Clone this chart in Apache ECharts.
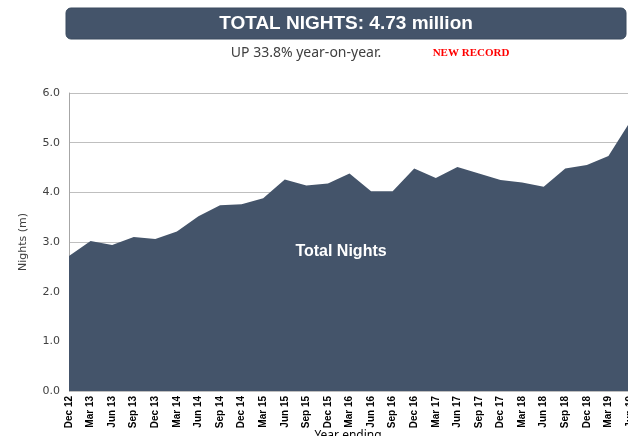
<!DOCTYPE html>
<html>
<head>
<meta charset="utf-8">
<script src="https://cdn.jsdelivr.net/npm/echarts@6/dist/echarts.min.js"></script>
<style>html,body{margin:0;padding:0;background:#fff;}#c{width:628px;height:436px;}</style>
</head>
<body>
<div id="c"></div>
<script>
var categories = ['Dec 12','Mar 13','Jun 13','Sep 13','Dec 13','Mar 14','Jun 14','Sep 14','Dec 14','Mar 15','Jun 15','Sep 15','Dec 15','Mar 16','Jun 16','Sep 16','Dec 16','Mar 17','Jun 17','Sep 17','Dec 17','Mar 18','Jun 18','Sep 18','Dec 18','Mar 19','Jun 19'];
var totalNights = [2.72,3.02,2.94,3.10,3.06,3.21,3.52,3.74,3.76,3.88,4.26,4.14,4.18,4.38,4.02,4.02,4.48,4.29,4.51,4.38,4.25,4.20,4.11,4.48,4.55,4.73,5.42];
var yTicks = [0,1,2,3,4,5,6];

var chart = echarts.init(document.getElementById('c'), null, {renderer:'canvas'});
chart.setOption({
  animation:false,
  backgroundColor:'#fff',
  grid:{left:69,right:-2,top:93,bottom:45,containLabel:false,outerBoundsMode:'none'},
  graphic:[
    {type:'rect',shape:{x:66,y:8,width:560,height:31,r:5},style:{fill:'#44546a',stroke:'#3a4a5e',lineWidth:1}},
    {type:'text',x:346,y:24,style:{text:'TOTAL NIGHTS: 4.73 million',fill:'#fff',font:'bold 19px "Liberation Sans", Arial, sans-serif',align:'center',verticalAlign:'middle'}},
    {type:'text',x:306,y:53,style:{text:'UP 33.8% year-on-year.',fill:'#404040',font:'14px "Noto Sans", sans-serif',align:'center',verticalAlign:'middle'}},
    {type:'text',x:471,y:53,style:{text:'NEW RECORD',fill:'#ff0000',font:'bold 11px "Liberation Serif", "Times New Roman", serif',align:'center',verticalAlign:'middle'}},
    {type:'text',x:341,y:252,z:100,style:{text:'Total Nights',fill:'#fff',font:'bold 16px "Liberation Sans", Arial, sans-serif',align:'center',verticalAlign:'middle'}},
    {type:'text',x:348,y:430,z:100,style:{text:'Year ending',fill:'#000',font:'12px "Noto Sans", sans-serif',align:'center',verticalAlign:'top'}}
  ],
  xAxis:{
    type:'category',data:categories,boundaryGap:false,
    axisLine:{show:false},axisTick:{show:false},
    axisLabel:{rotate:90,interval:0,fontSize:10,fontWeight:'bold',color:'#000',fontFamily:'"Liberation Sans", Arial, sans-serif',margin:5}
  },
  yAxis:{
    type:'value',min:0,max:6,interval:1,
    axisLine:{show:true,lineStyle:{color:'#a6a6a6'}},axisTick:{show:false},
    splitLine:{lineStyle:{color:'#bfbfbf',width:1}},
    axisLabel:{formatter:function(v){return v.toFixed(1);},fontSize:11,color:'#404040',margin:9,fontFamily:'"DejaVu Sans", sans-serif'},
    name:'Nights (m)',nameLocation:'middle',nameGap:40,nameRotate:90,
    nameTextStyle:{fontSize:11,color:'#404040',fontFamily:'"DejaVu Sans", sans-serif'}
  },
  series:[{
    type:'line',data:totalNights,symbol:'none',
    lineStyle:{width:0,color:'#44546a'},
    areaStyle:{color:'#44546a',opacity:1},
    z:3
  }]
});
</script>
</body>
</html>
